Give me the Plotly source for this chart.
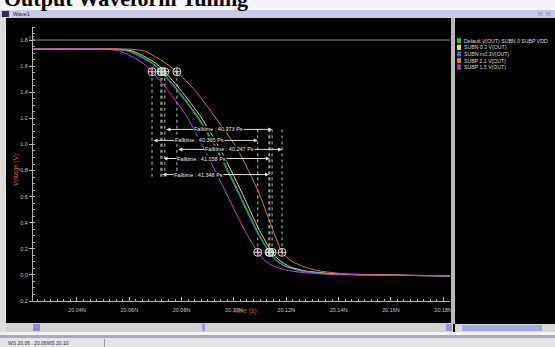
import plotly.graph_objects as go

# ---------------- DATA ----------------
series_names = [
    "Default V(OUT) SUBN 0 SUBP VDD",
    "SUBN 0.3 V(OUT)",
    "SUBN m0.3V(OUT)",
    "SUBP 2.1 V(OUT)",
    "SUBP 1.5 V(OUT)",
]

# time in ns
t_default = [20.0232, 20.0545, 20.0603, 20.0660, 20.0698, 20.0725, 20.0786, 20.0863, 20.0939,
             20.1016, 20.1088, 20.1137, 20.1165, 20.1203, 20.1260, 20.1368, 20.1520, 20.1826]
t_subn_p03 = [20.0232, 20.0557, 20.0614, 20.0671, 20.0709, 20.0736, 20.0797, 20.0874, 20.0950,
              20.1027, 20.1098, 20.1146, 20.1176, 20.1214, 20.1272, 20.1386, 20.1539, 20.1826]
t_subn_m03 = [20.0232, 20.0538, 20.0595, 20.0652, 20.0694, 20.0721, 20.0782, 20.0859, 20.0935,
              20.1012, 20.1085, 20.1134, 20.1162, 20.1200, 20.1257, 20.1365, 20.1515, 20.1826]
t_subp_21 = [20.0232, 20.0603, 20.0660, 20.0710, 20.0748, 20.0782, 20.0851, 20.0928, 20.1016,
             20.1092, 20.1150, 20.1184, 20.1218, 20.1268, 20.1326, 20.1425, 20.1635, 20.1826]
t_subp_15 = [20.0232, 20.0507, 20.0564, 20.0622, 20.0660, 20.0687, 20.0748, 20.0821, 20.0889,
             20.0966, 20.1042, 20.1091, 20.1119, 20.1157, 20.1215, 20.1329, 20.1482, 20.1826]

# voltage in V
v_default = [1.73, 1.73, 1.715, 1.66, 1.61, 1.557, 1.415, 1.21, 0.955, 0.645, 0.34, 0.173, 0.108, 0.062, 0.031, 0.008, 0.0, -0.008]
v_subn_p03 = [1.73, 1.73, 1.715, 1.66, 1.61, 1.557, 1.415, 1.21, 0.955, 0.645, 0.34, 0.173, 0.108, 0.062, 0.031, 0.008, 0.0, -0.008]
v_subn_m03 = [1.73, 1.73, 1.715, 1.66, 1.61, 1.557, 1.415, 1.21, 0.955, 0.645, 0.34, 0.173, 0.108, 0.062, 0.031, 0.008, 0.0, -0.008]
v_subp_21 = [1.73, 1.73, 1.715, 1.66, 1.61, 1.557, 1.415, 1.21, 0.955, 0.645, 0.34, 0.173, 0.108, 0.062, 0.031, 0.008, 0.0, -0.008]
v_subp_15 = [1.73, 1.73, 1.715, 1.66, 1.61, 1.557, 1.415, 1.21, 0.955, 0.645, 0.34, 0.173, 0.108, 0.062, 0.031, 0.008, 0.0, -0.008]

# fall-time measurement points (90% / 10%)
v90 = 1.557
v10 = 0.173
t90 = [20.0725, 20.0736, 20.0721, 20.0782, 20.0687]
t10 = [20.1137, 20.1146, 20.1134, 20.1184, 20.1091]
falltime_ps = [41.158, 40.973, 41.348, 40.247, 40.365]
falltime_row_v = [0.892, 1.115, 0.769, 0.962, 1.031]

x_tickvals = [20.04, 20.06, 20.08, 20.10, 20.12, 20.14, 20.16, 20.18]
x_ticktext = ["20.04N", "20.06N", "20.08N", "20.10N", "20.12N", "20.14N", "20.16N", "20.18N"]
y_tickvals = [-0.2, 0.0, 0.2, 0.4, 0.6, 0.8, 1.0, 1.2, 1.4, 1.6, 1.8]
y_ticktext = ["-0.2", "0.0", "0.2", "0.4", "0.6", "0.8", "1.0", "1.2", "1.4", "1.6", "1.8"]

# ---------------- STYLE ----------------
W, H = 555, 347
L, R, T, B = 33, 450, 27, 301
line_colors = ["#34d03c", "#e6e24a", "#3a82ee", "#e0704e", "#d040dc"]
legend_colors = ["#30c030", "#e8e040", "#2f6fe0", "#e07a30", "#c030d0"]
text_xshift = [-14, 0, -16, 0, -5]
FONT = "Liberation Sans"


def PX(x):
    return (x - L) / (R - L)


def PY(y):
    return (B - y) / (B - T)


all_t = [t_default, t_subn_p03, t_subn_m03, t_subp_21, t_subp_15]
all_v = [v_default, v_subn_p03, v_subn_m03, v_subp_21, v_subp_15]

fig = go.Figure()

# dotted measurement lines
for i in range(5):
    fig.add_trace(go.Scatter(x=[t90[i], t90[i]], y=[v90, 0.75], mode="lines",
                             line=dict(color="#bcbcbc", width=1, dash="dot"),
                             showlegend=False, hoverinfo="skip"))
    fig.add_trace(go.Scatter(x=[t10[i], t10[i]], y=[v10, 1.13], mode="lines",
                             line=dict(color="#bcbcbc", width=1, dash="dot"),
                             showlegend=False, hoverinfo="skip"))

# waveforms
for i in range(5):
    fig.add_trace(go.Scatter(x=all_t[i], y=all_v[i], mode="lines", name=series_names[i],
                             line=dict(color=line_colors[i], width=1, shape="spline", smoothing=0.6),
                             showlegend=False))

# crosshair markers
fig.add_trace(go.Scatter(x=t90, y=[v90] * 5, mode="markers",
                         marker=dict(symbol="circle-cross-open", size=8, color="#d8d8d8", line=dict(width=1)),
                         showlegend=False, hoverinfo="skip"))
fig.add_trace(go.Scatter(x=t10, y=[v10] * 5, mode="markers",
                         marker=dict(symbol="circle-cross-open", size=8, color="#d8d8d8", line=dict(width=1)),
                         showlegend=False, hoverinfo="skip"))

# falltime arrows and labels
for i in range(5):
    fig.add_annotation(x=t10[i], y=falltime_row_v[i], ax=t90[i], ay=falltime_row_v[i],
                       xref="x", yref="y", axref="x", ayref="y", text="", showarrow=True,
                       arrowhead=2, arrowside="end+start", arrowsize=0.8, arrowwidth=1,
                       arrowcolor="#e0e0e0")
    fig.add_annotation(x=(t90[i] + t10[i]) / 2, y=falltime_row_v[i], xref="x", yref="y",
                       text="Falltime : %.3f Ps" % falltime_ps[i], showarrow=False,
                       font=dict(family=FONT, size=5.5, color="#e8e8e8"),
                       bgcolor="black", borderpad=0, xshift=text_xshift[i])

shapes = []


def rect(x0, y0, x1, y1, fill):
    shapes.append(dict(type="rect", xref="paper", yref="paper", x0=PX(x0), x1=PX(x1),
                       y0=PY(y1), y1=PY(y0), fillcolor=fill, line=dict(width=0), layer="above"))


# window chrome
rect(0, -5, W, 10, "#f7f4f4")
rect(0, 10, W, 18, "#c9c9ec")
rect(2, 11, 9, 17, "#303040")
rect(538, 12, 543, 16, "#b0b0d0")
rect(546, 12, 551, 16, "#b0b0d0")
rect(0, 18, 6, 335, "#dcdcdc")
rect(451, 18, 455, 324, "#b8b8b8")
rect(6, 323, 453, 332, "#d2d2d2")
rect(33, 324, 40, 331, "#8c8cc8")
rect(202, 324, 205, 331, "#a0a0c4")
rect(446, 324, 452, 331, "#9a9ac8")
rect(455, 324, W, 332, "#d8d8d8")
rect(462, 325, 542, 331, "#a8a8e2")
rect(0, 332, W, 335, "#f2f2f2")
rect(0, 335, W, 338, "#a9a9c9")
rect(0, 338, W, H + 2, "#e4e4e4")
rect(104, 339, 105, H, "#a0a0a0")
# reference line at 1.8
shapes.append(dict(type="line", xref="paper", yref="y", x0=0, x1=1, y0=1.8, y1=1.8,
                   line=dict(color="#8a8a8a", width=1)))

# legend squares
for i in range(5):
    yc = 40.7 + 6.6 * i
    rect(457, yc - 2.6, 461, yc + 2.6, legend_colors[i])
    fig.add_annotation(x=PX(463), y=PY(yc), xref="paper", yref="paper", text=series_names[i],
                       showarrow=False, xanchor="left", yanchor="middle",
                       font=dict(family=FONT, size=5.2, color="#dcdcdc"), borderpad=0)

fig.update_layout(shapes=shapes)

# texts
fig.add_annotation(x=PX(2), y=PY(-1), xref="paper", yref="paper", text="<b>Output Waveform Tuning</b>",
                   showarrow=False, xanchor="left", yanchor="middle",
                   font=dict(family="Liberation Serif", size=22, color="black"))
fig.add_annotation(x=PX(12), y=PY(14), xref="paper", yref="paper", text="Wave1",
                   showarrow=False, xanchor="left", yanchor="middle",
                   font=dict(family=FONT, size=5.5, color="#202040"), borderpad=0)
fig.add_annotation(x=PX(27), y=PY(34), xref="paper", yref="paper", text="Y1",
                   showarrow=False, font=dict(family=FONT, size=6, color="#40c040"), borderpad=0)
fig.add_annotation(x=PX(11), y=PY(170), xref="paper", yref="paper", text="Voltage (V)",
                   showarrow=False, textangle=-90, font=dict(family=FONT, size=6.5, color="#c4643c"),
                   borderpad=0)
fig.add_annotation(x=PX(245), y=PY(316), xref="paper", yref="paper", text="Time (s)",
                   showarrow=False, font=dict(family=FONT, size=6.5, color="#c4643c"), borderpad=0)
fig.add_annotation(x=PX(7), y=PY(343), xref="paper", yref="paper", text="WS 20.06 : 20.06WS 20.10",
                   showarrow=False, xanchor="left", yanchor="middle",
                   font=dict(family=FONT, size=5, color="#303030"), borderpad=0)

fig.update_layout(
    width=W, height=H,
    margin=dict(l=L, r=W - R, t=T, b=H - B, pad=0),
    paper_bgcolor="black", plot_bgcolor="black",
    showlegend=False,
    xaxis=dict(range=[20.0232, 20.1826], tickvals=x_tickvals, ticktext=x_ticktext,
               showgrid=False, zeroline=False, showline=True, linecolor="#b4b4b4", linewidth=1,
               ticks="inside", ticklen=4, tickcolor="#b4b4b4", ticklabelstandoff=3,
               minor=dict(ticks="inside", ticklen=2, dtick=0.0025, tick0=20.04, tickcolor="#b4b4b4"),
               tickfont=dict(family=FONT, size=5.5, color="#c4c4c4")),
    yaxis=dict(range=[-0.2, 1.9], tickvals=y_tickvals, ticktext=y_ticktext,
               showgrid=False, zeroline=False, showline=True, linecolor="#b4b4b4", linewidth=1,
               ticks="outside", ticklen=3, tickcolor="#b4b4b4",
               minor=dict(ticks="inside", ticklen=2, dtick=0.05, tick0=0, tickcolor="#b4b4b4"),
               tickfont=dict(family=FONT, size=5.5, color="#c4c4c4")),
)

fig.write_html("out.html", config={"displayModeBar": False},
               post_script="document.body.style.margin='0';document.body.style.overflow='hidden';")
